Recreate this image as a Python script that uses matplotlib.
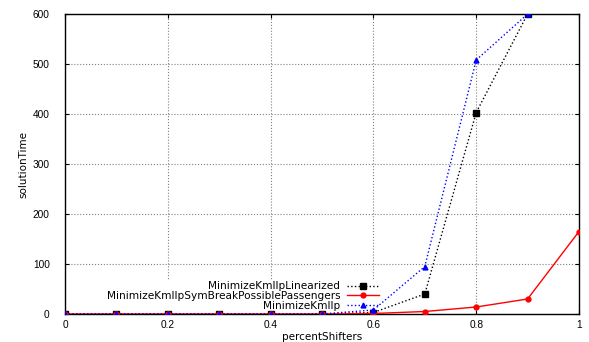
import matplotlib
matplotlib.use("Agg")
import matplotlib.pyplot as plt

x_lin = [0.0, 0.1, 0.2, 0.3, 0.4, 0.5, 0.6, 0.7, 0.8, 0.9]
y_lin = [0, 0, 0, 0, 0, 0, 3, 40, 403, 600]
x_sym = [0.0, 0.1, 0.2, 0.3, 0.4, 0.5, 0.6, 0.7, 0.8, 0.9, 1.0]
y_sym = [0, 0, 0, 0, 0, 0, 1, 5, 14, 30, 165]
x_ilp = [0.0, 0.1, 0.2, 0.3, 0.4, 0.5, 0.6, 0.7, 0.8, 0.9]
y_ilp = [0, 0, 0, 0, 0, 0, 8, 95, 508, 600]

labels = ["MinimizeKmIlpLinearized", "MinimizeKmIlpSymBreakPossiblePassengers", "MinimizeKmIlp"]
xticks = [0, 0.2, 0.4, 0.6, 0.8, 1]
yticks = [0, 100, 200, 300, 400, 500, 600]

plt.rcParams['font.family'] = ['Liberation Sans', 'DejaVu Sans']
fig = plt.figure(figsize=(5.89, 3.42), dpi=100)
ax = fig.add_axes([65/589, 1-314/342, 514/589, 300/342])

ax.plot(x_lin, y_lin, color='black', linestyle=':', linewidth=1, marker='s', markersize=5, label=labels[0], zorder=3)
ax.plot(x_sym, y_sym, color='red', linestyle='-', linewidth=1, marker='o', markersize=3.5, label=labels[1], zorder=4)
ax.plot(x_ilp, y_ilp, color='blue', linestyle=':', linewidth=1, marker='^', markersize=3.5, label=labels[2], zorder=5)

ax.set_xlim(0, 1)
ax.set_ylim(0, 600)
ax.set_xticks(xticks)
ax.set_xticklabels(['0', '0.2', '0.4', '0.6', '0.8', '1'])
ax.set_yticks(yticks)
ax.tick_params(direction='in', labelsize=7.3, length=3, width=0.8, top=True, right=True)
ax.tick_params(axis='y', pad=11)
ax.tick_params(axis='x', pad=4.5)
ax.grid(True, color='gray', linestyle=':', linewidth=0.8)
ax.set_axisbelow(True)
for s in ax.spines.values():
    s.set_linewidth(1)
ax.set_xlabel('percentShifters', fontsize=7.5, family='DejaVu Sans', labelpad=1)
ax.set_ylabel('solutionTime', fontsize=7.5, family='DejaVu Sans')
ax.yaxis.set_label_coords(-(65-28)/514, 0.5)

leg = ax.legend(loc='lower right', bbox_to_anchor=((380-65)/514, 0.008),
                prop={'family': 'DejaVu Sans', 'size': 7.55},
                frameon=True, fancybox=False, edgecolor='none', framealpha=1,
                markerfirst=False, handlelength=3.0, handletextpad=0.7,
                labelspacing=-0.03, borderpad=0.1, borderaxespad=0)
leg.set_zorder(2.5)
for t in leg.get_texts():
    t.set_ha('right')

fig.savefig('out.png', dpi=100)
